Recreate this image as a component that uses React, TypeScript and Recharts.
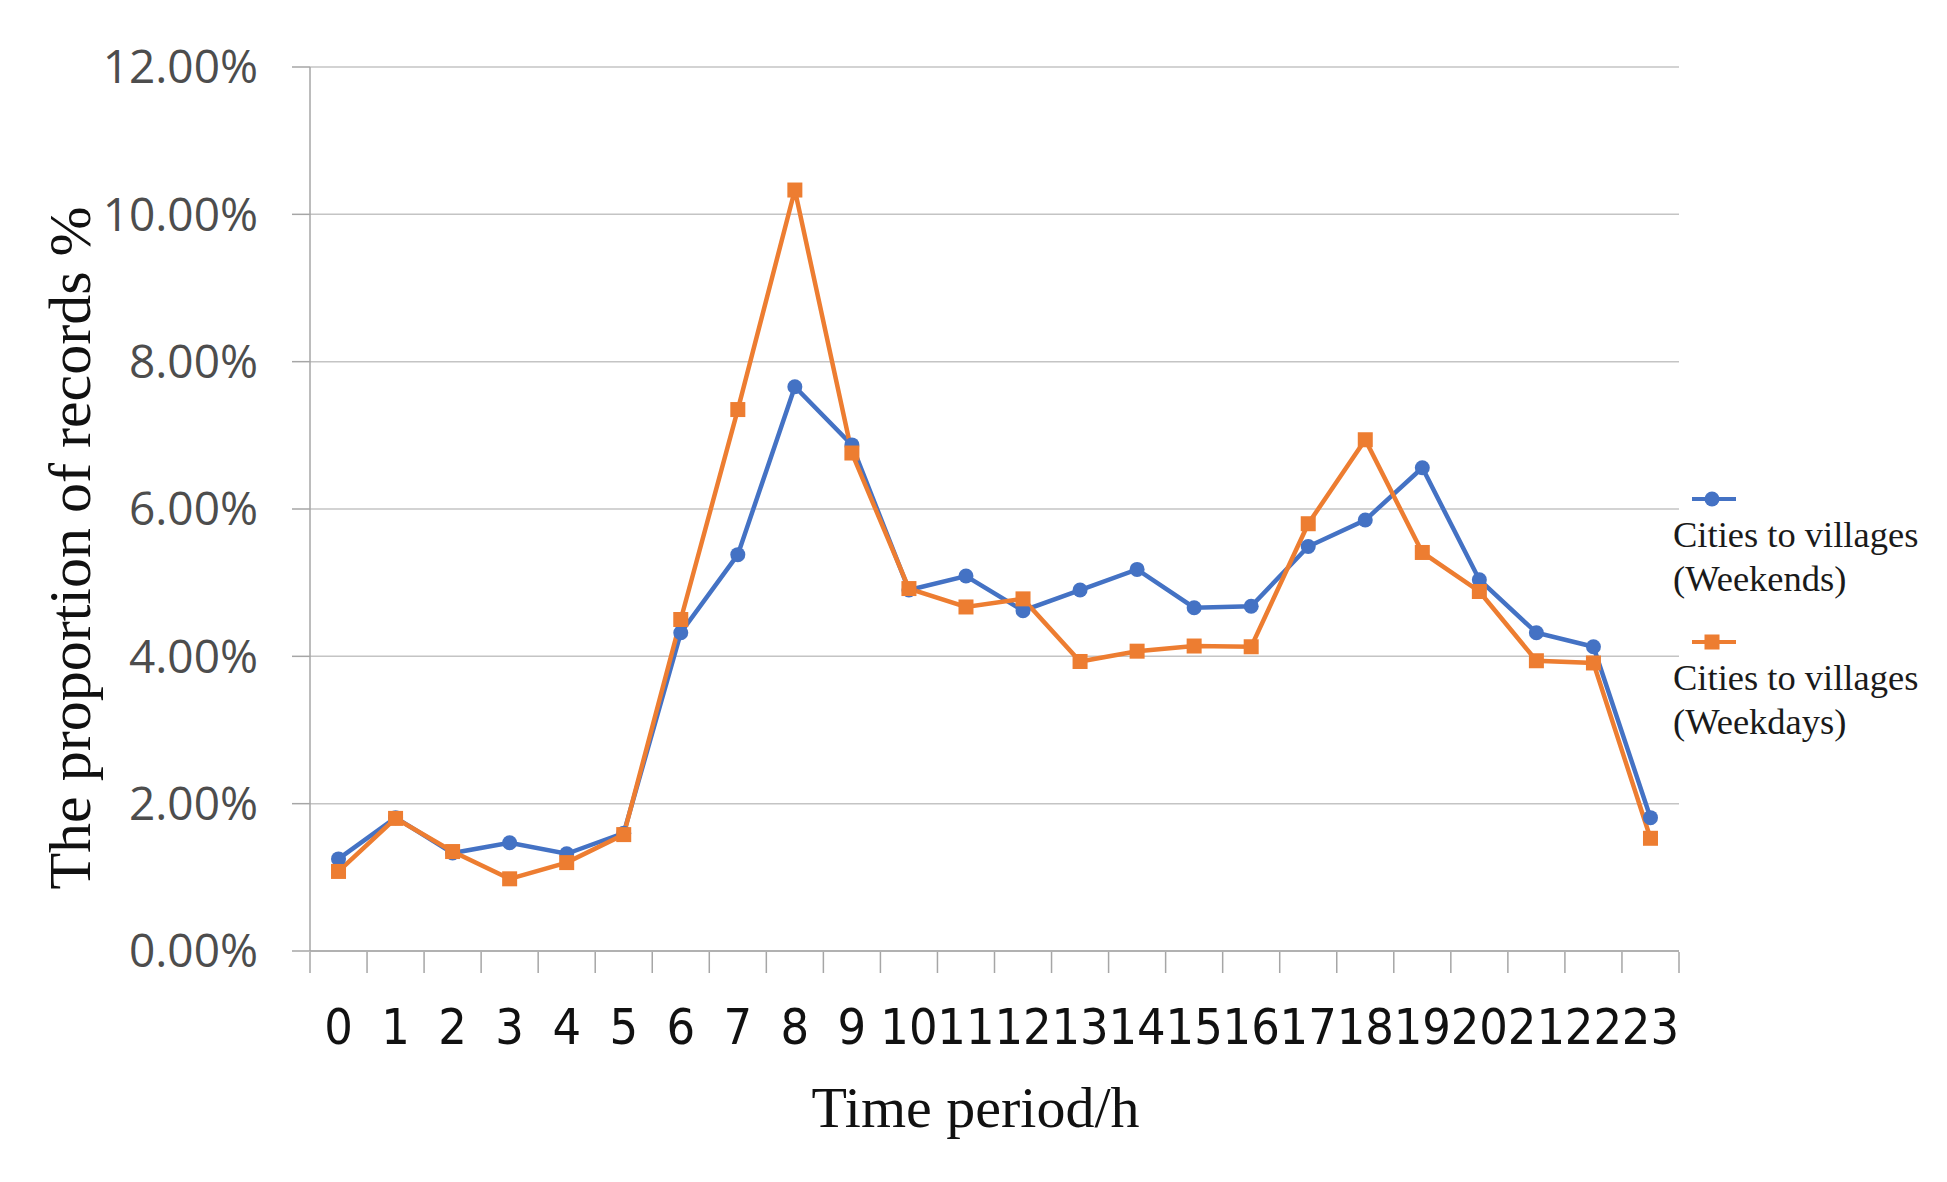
import {
  CartesianGrid,
  Label,
  Legend,
  Line,
  LineChart,
  XAxis,
  YAxis,
} from "recharts";

const hours = [0, 1, 2, 3, 4, 5, 6, 7, 8, 9, 10, 11, 12, 13, 14, 15, 16, 17, 18, 19, 20, 21, 22, 23];

// proportion of records, in percent
const weekends = [
  1.25, 1.81, 1.33, 1.47, 1.32, 1.6, 4.32, 5.38, 7.66, 6.87, 4.9, 5.09,
  4.62, 4.9, 5.18, 4.66, 4.68, 5.49, 5.85, 6.56, 5.04, 4.32, 4.13, 1.81,
];
const weekdays = [
  1.08, 1.8, 1.35, 0.98, 1.2, 1.58, 4.5, 7.35, 10.33, 6.76, 4.92, 4.67,
  4.78, 3.93, 4.07, 4.14, 4.13, 5.8, 6.94, 5.41, 4.88, 3.94, 3.91, 1.53,
];

const yTicks = [0, 2, 4, 6, 8, 10, 12];
// Excel-style tick marks sit between the categories
const hourEdges = [...hours, 24].map((h) => h - 0.5);

const seriesNames = {
  weekends: "Cities to villages (Weekends)",
  weekdays: "Cities to villages (Weekdays)",
};

const BLUE = "#4472C4";
const ORANGE = "#ED7D31";
const AXIS_GRAY = "#a6a6a6";
const SERIF = "'Liberation Serif', 'Times New Roman', serif";

const data = hours.map((hour, i) => ({
  hour,
  weekends: weekends[i],
  weekdays: weekdays[i],
}));

const squareDot = (p: any) => {
  if (p.cx == null || p.cy == null) return <g key={`sq-${p.index}`} />;
  return (
    <rect
      key={`sq-${p.index}`}
      x={p.cx - 7.5}
      y={p.cy - 7.5}
      width={15}
      height={15}
      fill={ORANGE}
    />
  );
};

function LegendBox({ payload }: any) {
  const order = ["weekends", "weekdays"];
  const items = [...(payload ?? [])].sort(
    (a: any, b: any) => order.indexOf(a.dataKey) - order.indexOf(b.dataKey)
  );
  return (
    <svg width={285} height={290}>
      {items.map((item: any, i: number) => {
        const top = 21 + i * 143;
        const name = String(item.value);
        const cut = name.indexOf(" (");
        return (
          <g key={item.dataKey}>
            <line x1={24} x2={68} y1={top} y2={top} stroke={item.color} strokeWidth={4} />
            {item.dataKey === "weekdays" ? (
              <rect x={36.5} y={top - 7.5} width={15} height={15} fill={item.color} />
            ) : (
              <circle cx={44} cy={top} r={7.5} fill={item.color} />
            )}
            <text x={5} y={top + 48} fontFamily={SERIF} fontSize={36.5} fill="#1a1a1a">
              {name.slice(0, cut)}
            </text>
            <text x={5} y={top + 92} fontFamily={SERIF} fontSize={36.5} fill="#1a1a1a">
              {name.slice(cut + 1)}
            </text>
          </g>
        );
      })}
    </svg>
  );
}

const YTitle = ({ viewBox }: any) => {
  const x = viewBox.x + 82;
  const y = viewBox.y + viewBox.height / 2 + 39;
  return (
    <text
      x={x}
      y={y}
      transform={`rotate(-90, ${x}, ${y})`}
      textAnchor="middle"
      fontFamily={SERIF}
      fontSize={60}
      fill="#111"
    >
      The proportion of records %
    </text>
  );
};

const XTitle = ({ viewBox }: any) => (
  <text
    x={viewBox.x + viewBox.width / 2 - 19}
    y={viewBox.y + 176}
    textAnchor="middle"
    fontFamily={SERIF}
    fontSize={58}
    fill="#111"
  >
    Time period/h
  </text>
);

export default function App() {
  return (
    <div style={{ width: 1939, height: 1174, background: "#fff" }}>
      <LineChart
        width={1939}
        height={1174}
        data={data}
        margin={{ top: 59, right: 268, bottom: 229, left: 0 }}
      >
        <CartesianGrid vertical={false} stroke="#c4c4c4" strokeWidth={1.5} />
        <XAxis
          dataKey="hour"
          type="number"
          domain={[-0.5, 23.5]}
          allowDataOverflow
          ticks={hours}
          interval={0}
          height={1}
          tickLine={false}
          tickSize={21}
          tickMargin={36}
          axisLine={{ stroke: AXIS_GRAY, strokeWidth: 1.5 }}
          tick={{
            fill: "#111",
            fontSize: 50,
            fontFamily: "'Liberation Sans Narrow', 'DejaVu Sans Condensed', sans-serif",
          }}
        >
          <Label content={XTitle} />
        </XAxis>
        <XAxis
          xAxisId="edges"
          dataKey="hour"
          type="number"
          domain={[-0.5, 23.5]}
          allowDataOverflow
          ticks={hourEdges}
          interval={0}
          height={1}
          axisLine={false}
          tickSize={21}
          tickLine={{ stroke: AXIS_GRAY, strokeWidth: 1.5 }}
          tickFormatter={() => ""}
        />
        <YAxis
          domain={[0, 12]}
          ticks={yTicks}
          interval={0}
          width={302}
          tickSize={18}
          tickMargin={34}
          axisLine={{ stroke: AXIS_GRAY, strokeWidth: 1.5 }}
          tickLine={{ stroke: AXIS_GRAY, strokeWidth: 1.5 }}
          tickFormatter={(v: number) => `${v.toFixed(2)}%`}
          tick={{ fill: "#4d4d4d", fontSize: 46, fontFamily: "'Open Sans', sans-serif" }}
        >
          <Label content={YTitle} />
        </YAxis>
        <Line
          dataKey="weekends"
          name={seriesNames.weekends}
          stroke={BLUE}
          strokeWidth={4.5}
          dot={{ r: 7.5, fill: BLUE, stroke: "none" }}
          isAnimationActive={false}
        />
        <Line
          dataKey="weekdays"
          name={seriesNames.weekdays}
          stroke={ORANGE}
          strokeWidth={4.5}
          dot={squareDot}
          isAnimationActive={false}
        />
        <Legend
          layout="vertical"
          align="center"
          verticalAlign="middle"
          content={LegendBox}
          wrapperStyle={{ left: 1660, top: 470, width: 285, height: 290 }}
        />
      </LineChart>
    </div>
  );
}
